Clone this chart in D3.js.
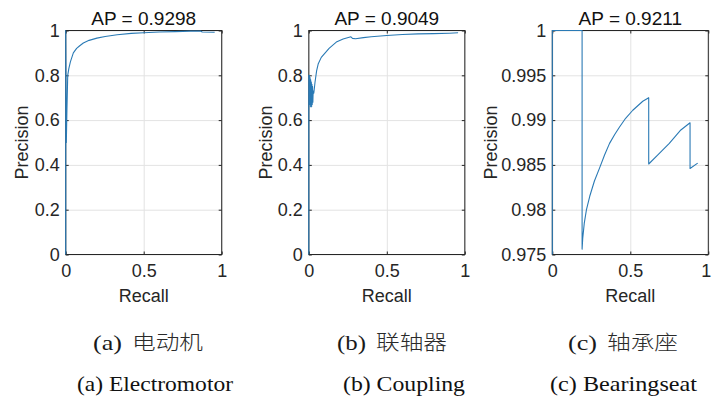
<!DOCTYPE html>
<html>
<head>
<meta charset="utf-8">
<script src="https://cdn.jsdelivr.net/npm/d3@7"></script>
<style>
  html, body { margin: 0; padding: 0; background: #fff; }
  svg { display: block; }
  text { white-space: pre; }
</style>
</head>
<body>
<svg id="chart" width="712" height="399"></svg>
<script>
// ---------------- data ----------------
const panelTitles = ["AP = 0.9298", "AP = 0.9049", "AP = 0.9211"];
const xTicks = [0, 0.5, 1];
const xTickLabels = ["0", "0.5", "1"];
const yTicks = [0, 0.2, 0.4, 0.6, 0.8, 1];
const yTickLabels = ["0", "0.2", "0.4", "0.6", "0.8", "1"];
const yTicks3 = [0.975, 0.98, 0.985, 0.99, 0.995, 1];
const yTickLabels3 = ["0.975", "0.98", "0.985", "0.99", "0.995", "1"];
const yDomain12 = [0, 1];
const yDomain3 = [0.975, 1];

const recall1 = [0, 0, 0.004, 0.008, 0.013, 0.02, 0.03, 0.049, 0.07, 0.09, 0.113, 0.15, 0.2, 0.253, 0.33, 0.42, 0.5, 0.6, 0.7, 0.8, 0.865, 0.875, 0.955];
const precision1 = [0, 1, 0.5, 0.65, 0.8, 0.83, 0.86, 0.9, 0.92, 0.932, 0.944, 0.956, 0.966, 0.973, 0.981, 0.987, 0.99, 0.993, 0.995, 0.997, 0.998, 0.993, 0.992];

const recall2 = [0, 0, 0.002, 0.004, 0.006, 0.008, 0.010, 0.012, 0.014, 0.016, 0.018, 0.020, 0.022, 0.024, 0.026, 0.028, 0.032, 0.04, 0.05, 0.06, 0.08, 0.105, 0.13, 0.18, 0.22, 0.27, 0.28, 0.3, 0.35, 0.4, 0.5, 0.6, 0.7, 0.8, 0.9, 0.957];
const precision2 = [0, 0.80, 0.70, 0.80, 0.67, 0.79, 0.66, 0.78, 0.67, 0.77, 0.66, 0.76, 0.67, 0.75, 0.68, 0.73, 0.72, 0.77, 0.82, 0.85, 0.88, 0.90, 0.92, 0.95, 0.962, 0.972, 0.965, 0.963, 0.968, 0.972, 0.978, 0.982, 0.985, 0.986, 0.988, 0.99];

const recall3 = [0, 0, 0.191, 0.191, 0.195, 0.205, 0.219, 0.24, 0.27, 0.304, 0.335, 0.367, 0.40, 0.43, 0.47, 0.516, 0.58, 0.618, 0.618, 0.675, 0.75, 0.824, 0.883, 0.883, 0.932];
const precision3 = [0.975, 1, 1, 0.9756, 0.9768, 0.9785, 0.98, 0.9815, 0.9832, 0.9847, 0.9861, 0.9874, 0.9884, 0.9892, 0.9902, 0.9911, 0.9921, 0.9925, 0.9851, 0.9861, 0.9874, 0.9889, 0.9897, 0.9846, 0.9852];

const captionLetters = ["(a)", "(b)", "(c)"];
const captionsZh = ["电动机", "联轴器", "轴承座"];
const captionsEn = ["(a) Electromotor", "(b) Coupling", "(c) Bearingseat"];

// ---------------- layout ----------------
const svg = d3.select("#chart");
const axW = 156, axH = 224, axTop = 30.5;
const axLefts = [65.7, 308.8, 552.3];
const ylabelOffsets = [-37.2, -37.1, -55.6];
const lineColor = "#2a7ab5";
const axisColor = "#262626";
const gridColor = "#e3e3e3";
const labelFont = "'Liberation Sans', Arial, sans-serif";

const panels = [
  { r: recall1, p: precision1, yd: yDomain12, yt: yTicks, yl: yTickLabels },
  { r: recall2, p: precision2, yd: yDomain12, yt: yTicks, yl: yTickLabels },
  { r: recall3, p: precision3, yd: yDomain3, yt: yTicks3, yl: yTickLabels3 }
];

panels.forEach((pd, i) => {
  const left = axLefts[i];
  const g = svg.append("g").attr("transform", `translate(${left},${axTop})`);
  const x = d3.scaleLinear().domain([0, 1]).range([0, axW]);
  const y = d3.scaleLinear().domain(pd.yd).range([axH, 0]);

  // grid
  const gx = g.append("g").attr("transform", `translate(0,${axH})`)
    .call(d3.axisBottom(x).tickValues(xTicks).tickSize(-axH).tickFormat(""));
  const gy = g.append("g")
    .call(d3.axisLeft(y).tickValues(pd.yt).tickSize(-axW).tickFormat(""));
  [gx, gy].forEach(a => {
    a.select(".domain").remove();
    a.selectAll("line").attr("stroke", gridColor).attr("stroke-width", 1);
  });

  const clipId = "clip" + i;
  g.append("clipPath").attr("id", clipId).append("rect")
    .attr("x", -1).attr("y", -1).attr("width", axW + 2).attr("height", axH + 2);

  // axes with inward ticks
  const fmtX = (d) => xTickLabels[xTicks.indexOf(d)];
  const fmtY = (d) => pd.yl[pd.yt.indexOf(d)];
  const ab = g.append("g").attr("transform", `translate(0,${axH})`)
    .call(d3.axisBottom(x).tickValues(xTicks).tickSize(-3).tickPadding(10).tickFormat(fmtX));
  const al = g.append("g")
    .call(d3.axisLeft(y).tickValues(pd.yt).tickSize(-3).tickPadding(6).tickFormat(fmtY));
  const at = g.append("g")
    .call(d3.axisTop(x).tickValues(xTicks).tickSize(-3).tickFormat(""));
  const ar = g.append("g").attr("transform", `translate(${axW},0)`)
    .call(d3.axisRight(y).tickValues(pd.yt).tickSize(-3).tickFormat(""));
  [ab, al, at, ar].forEach(a => {
    a.select(".domain").remove();
    a.selectAll("line").attr("stroke", axisColor);
    a.selectAll("text").attr("fill", axisColor)
      .attr("font-family", labelFont).attr("font-size", 18);
  });
  if (i === 2) {
    // keep the last x tick label inside the window
    ab.selectAll("text").filter(d => d === 1).attr("dx", -2.5);
  }

  // box
  g.append("rect").attr("x", 0).attr("y", 0).attr("width", axW).attr("height", axH)
    .attr("fill", "none").attr("stroke", axisColor).attr("stroke-width", 1);

  // line (on top)
  const pts = pd.r.map((rv, k) => [rv, pd.p[k]]);
  g.append("path")
    .attr("clip-path", `url(#${clipId})`)
    .attr("d", d3.line().x(d => x(d[0])).y(d => y(d[1]))(pts))
    .attr("fill", "none")
    .attr("stroke", lineColor)
    .attr("stroke-width", 1.1)
    .attr("stroke-linejoin", "round");

  // title
  g.append("text").attr("x", axW / 2).attr("y", -5.5)
    .attr("text-anchor", "middle").attr("font-family", labelFont)
    .attr("font-size", 19).attr("fill", "#111").text(panelTitles[i]);
  // x label
  g.append("text").attr("x", axW / 2).attr("y", 301.5 - axTop)
    .attr("text-anchor", "middle").attr("font-family", labelFont)
    .attr("font-size", 18).attr("fill", axisColor).text("Recall");
  // y label
  g.append("text")
    .attr("transform", `translate(${ylabelOffsets[i]},${axH / 2}) rotate(-90)`)
    .attr("text-anchor", "middle").attr("font-family", labelFont)
    .attr("font-size", 18).attr("fill", axisColor).text("Precision");
});

// ---------------- captions ----------------
const zhStarts = [93, 337, 568];
const enStarts = [77, 343, 550], enWidths = [156, 122, 147];
captionsZh.forEach((t, i) => {
  const txt = svg.append("text").attr("x", zhStarts[i]).attr("y", 350)
    .attr("fill", "#1a1a1a");
  txt.append("tspan")
    .attr("font-family", "'Liberation Serif', 'Times New Roman', serif")
    .attr("font-size", 22)
    .attr("textLength", 29).attr("lengthAdjust", "spacingAndGlyphs")
    .text(captionLetters[i]);
  txt.append("tspan")
    .attr("x", zhStarts[i] + 39)
    .attr("font-family", "'Noto Sans CJK SC', sans-serif")
    .attr("font-weight", 300)
    .attr("font-size", 20)
    .attr("fill", "#2a2a2a")
    .attr("textLength", 71).attr("lengthAdjust", "spacingAndGlyphs")
    .text(t);
});
captionsEn.forEach((t, i) => {
  svg.append("text").attr("x", enStarts[i]).attr("y", 391)
    .attr("font-family", "'Liberation Serif', 'Times New Roman', serif")
    .attr("font-size", 21).attr("fill", "#111")
    .attr("textLength", enWidths[i]).attr("lengthAdjust", "spacingAndGlyphs")
    .text(t);
});
</script>
</body>
</html>
